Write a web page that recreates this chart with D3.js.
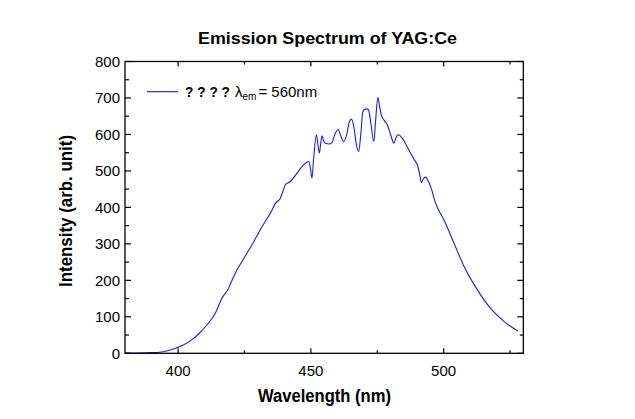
<!DOCTYPE html>
<html><head><meta charset="utf-8">
<script src="https://cdn.jsdelivr.net/npm/d3@7"></script>
<style>body{margin:0;background:#fff}svg{display:block}text{font-family:"Liberation Sans",Arial,sans-serif}</style>
</head><body><svg id="c" width="635" height="419"></svg>
<script>
const wavelength = [380,385,390,393,396,399,402,405,408,411,414,416.5,419,419.8,421.5,424,427.8,431.6,435.4,436.6,438.5,439.5,440.4,442.3,444.8,447.3,448.5,449.2,449.8,450.4,451,452.1,452.6,453.2,453.7,454.2,454.9,455.5,457,458,459,460.3,461.3,462.4,463.5,464.5,465.3,466.2,467.2,468,468.8,469.5,469.9,471.2,471.8,472.6,473.7,474.4,475.2,475.8,476.5,477.5,478.8,480,481.3,482,482.8,484.4,486,487.5,489,490.1,491,491.6,492.3,493.2,494,495.1,497,500.1,503.9,507.7,512.7,517.7,522.8,528];
const intensity  = [1,1,2,3,7,14,23,36,55,79,110,151,178,192,219,251,297,347,393,411,425,445,462,471,494,517,524,526,510,480,530,599,575,549,575,596,580,576,574,578,600,613,595,580,600,635,642,620,570,553,600,660,667,670,665,630,580,640,702,680,654,640,626,600,576,590,599,590,570,549,530,517,490,468,478,483,475,457,411,366,302,238,174,123,87,61];
const xMajor = [400,450,500];
const xMinor = [425,475,525];
const yMajor = [0,100,200,300,400,500,600,700,800];
const yMinor = [50,150,250,350,450,550,650,750];
const title = "Emission Spectrum of YAG:Ce";
const xTitle = "Wavelength (nm)";
const yTitle = "Intensity (arb. unit)";

const svg = d3.select("#c");
const L=125, R=523.3, T=61.5, B=353.3;
const x = d3.scaleLinear().domain([380,530]).range([L,R]);
const y = d3.scaleLinear().domain([0,800]).range([B,T]);

const data = wavelength.map((w,i)=>({w, v:intensity[i]}));
svg.append("path").datum(data)
  .attr("fill","none").attr("stroke","#1a1aee").attr("stroke-width",1.1)
  .attr("d", d3.line().x(d=>x(d.w)).y(d=>y(d.v)).curve(d3.curveMonotoneX));

const g = svg.append("g").attr("stroke","#000").attr("stroke-width",1.2);
xMajor.forEach(v=>{
  g.append("line").attr("x1",x(v)).attr("x2",x(v)).attr("y1",B).attr("y2",B-5);
  g.append("line").attr("x1",x(v)).attr("x2",x(v)).attr("y1",T).attr("y2",T+5);
});
xMinor.forEach(v=>{
  g.append("line").attr("x1",x(v)).attr("x2",x(v)).attr("y1",B).attr("y2",B-3);
  g.append("line").attr("x1",x(v)).attr("x2",x(v)).attr("y1",T).attr("y2",T+3);
});
yMajor.forEach(v=>{
  g.append("line").attr("x1",L).attr("x2",L+6).attr("y1",y(v)).attr("y2",y(v));
  g.append("line").attr("x1",R).attr("x2",R-6).attr("y1",y(v)).attr("y2",y(v));
});
yMinor.forEach(v=>{
  g.append("line").attr("x1",L).attr("x2",L+4).attr("y1",y(v)).attr("y2",y(v));
  g.append("line").attr("x1",R).attr("x2",R-3.5).attr("y1",y(v)).attr("y2",y(v));
});
svg.append("rect").attr("x",L).attr("y",T).attr("width",R-L).attr("height",B-T)
  .attr("fill","none").attr("stroke","#000").attr("stroke-width",1.3);

xMajor.forEach(v=>svg.append("text").attr("x",x(v)).attr("y",376).attr("text-anchor","middle")
  .attr("font-size",15).text(v));
yMajor.forEach(v=>svg.append("text").attr("x",120).attr("y",y(v)+5.3).attr("text-anchor","end")
  .attr("font-size",15).text(v));

svg.append("text").attr("x",327.5).attr("y",43.5).attr("text-anchor","middle")
  .attr("font-size",17).attr("font-weight","bold").attr("textLength",259).attr("lengthAdjust","spacingAndGlyphs").text(title);
svg.append("text").attr("x",324.5).attr("y",401.5).attr("text-anchor","middle")
  .attr("font-size",18).attr("font-weight","bold").attr("textLength",133).attr("lengthAdjust","spacingAndGlyphs").text(xTitle);
svg.append("text").attr("transform","translate(72,211) rotate(-90)").attr("text-anchor","middle")
  .attr("font-size",18).attr("font-weight","bold").attr("textLength",152).attr("lengthAdjust","spacingAndGlyphs").text(yTitle);

svg.append("line").attr("x1",147).attr("x2",178).attr("y1",91.7).attr("y2",91.7)
  .attr("stroke","#1515c8").attr("stroke-width",1.1);
svg.append("text").attr("x",185).attr("y",97).attr("font-size",15).attr("font-weight","bold")
  .attr("textLength",45).attr("lengthAdjust","spacingAndGlyphs").text("? ? ? ?");
const lt = svg.append("text").attr("x",235).attr("y",97).attr("font-size",15);
lt.append("tspan").text("λ");
lt.append("tspan").attr("font-size",10).attr("dy",3).text("em");
lt.append("tspan").attr("dy",-3).attr("dx",2).text("= 560nm");
</script></body></html>
